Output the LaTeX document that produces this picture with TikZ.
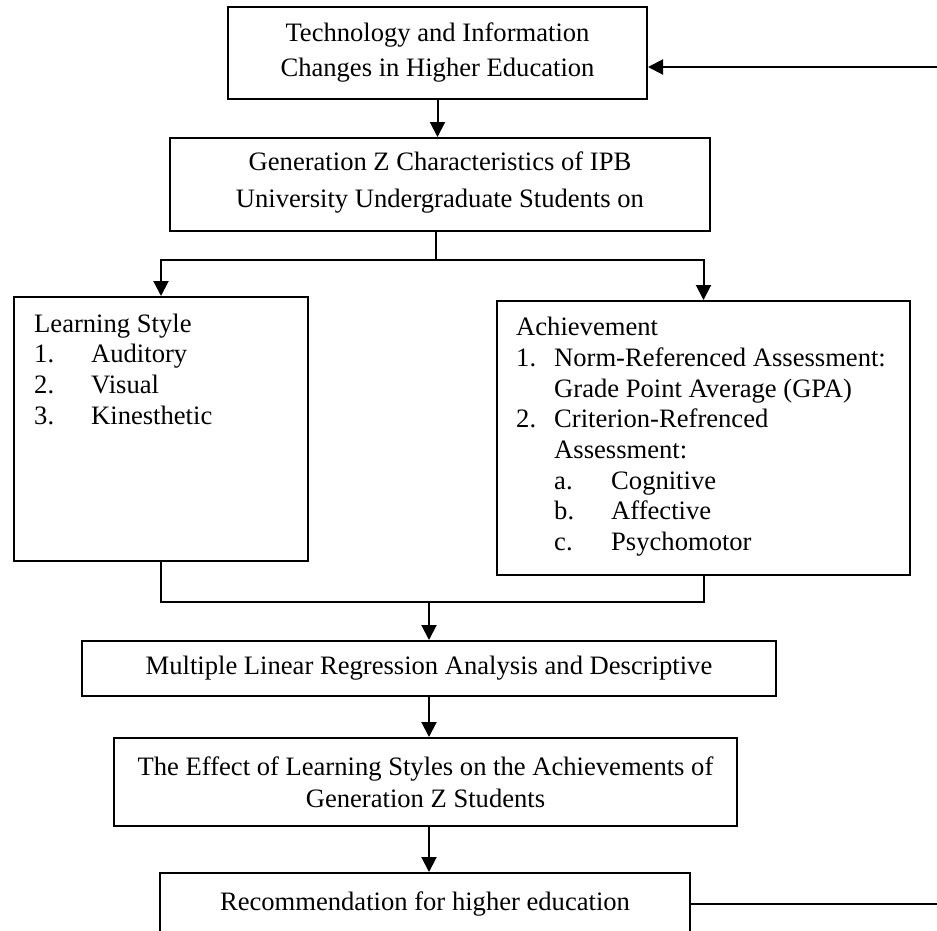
\documentclass[tikz,border=0pt]{standalone}
\usepackage{fontspec}
\setmainfont{Liberation Serif}
\usetikzlibrary{arrows.meta}
\tikzset{
	box/.style={draw, line width=2pt, inner sep=0pt, align=center, font=\fontsize{26.6}{35}\selectfont},
	listtext/.style={inner sep=0pt, align=left, anchor=north west, font=\fontsize{26.6}{30.7}\selectfont},
	arrow/.style={line width=2pt, -{Triangle[length=15pt,width=15pt]}},
	link/.style={line width=2pt},
}
\newcommand{\itm}[2]{\makebox[#1][l]{#2}}
\begin{document}
\begin{tikzpicture}[x=1pt,y=-1pt]
			\useasboundingbox (0,0) rectangle (937,930);
			
			\node[box, minimum width=419pt, minimum height=92pt] (tech) at (437.5,53) {Technology and Information\\Changes in Higher Education};
			\node[box, minimum width=540pt, minimum height=93pt, text depth=10pt, font=\fontsize{26.6}{37}\selectfont] (genz) at (440,184.5) {Generation Z Characteristics of IPB\\University Undergraduate Students on};
			\node[box, minimum width=294pt, minimum height=264pt] (ls) at (161,429) {};
			\node[box, minimum width=413pt, minimum height=274pt] (ach) at (703.5,438) {};
			\node[box, minimum width=694pt, minimum height=55pt] (mlr) at (429,668.5) {Multiple Linear Regression Analysis and Descriptive};
			\node[box, minimum width=623pt, minimum height=88pt, font=\fontsize{26.6}{32}\selectfont] (eff) at (425.5,782) {The Effect of Learning Styles on the Achievements of\\Generation Z Students};
			\node[box, minimum width=530pt, minimum height=62pt] (rec) at (425,904) {Recommendation for higher education};
			
			% list texts
			\node[listtext] (lstext) at ([shift={(21pt,-17.5pt)}]ls.north west) {Learning Style\\
				\itm{57pt}{1.}Auditory\\
				\itm{57pt}{2.}Visual\\
				\itm{57pt}{3.}Kinesthetic};
			\node[listtext] (achtext) at ([shift={(20pt,-17pt)}]ach.north west) {Achievement\\
				\itm{38pt}{1.}Norm-Referenced Assessment:\\
				\hspace*{38pt}Grade Point Average (GPA)\\
				\itm{38pt}{2.}Criterion-Refrenced\\
				\hspace*{38pt}Assessment:\\
				\hspace*{38pt}\itm{57pt}{a.}Cognitive\\
				\hspace*{38pt}\itm{57pt}{b.}Affective\\
				\hspace*{38pt}\itm{57pt}{c.}Psychomotor};
			
			\coordinate (split) at ([xshift=-4pt,yshift=-28pt]genz.south);
			\coordinate (join) at ([yshift=38pt]mlr.north);
			
			\draw[arrow] (tech.south) -- (tech.south |- genz.north);
			\draw[link] (split |- genz.south) -- (split);
			\draw[arrow] (split) -| (ls.north);
			\draw[arrow] (split) -| (ach.north);
			\draw[link] (ls.south) -- (ls.south |- join) -- (ach.south |- join) -- (ach.south);
			\draw[arrow] (join) -- (join |- mlr.north);
			\draw[arrow] (join |- mlr.south) -- (join |- eff.north);
			\draw[arrow] (join |- eff.south) -- (join |- rec.north);
			
			% feedback
			\draw[arrow] (rec.east) -- ++(252,0) |- ([yshift=-14pt]tech.east);
		\end{tikzpicture}
\end{document}
